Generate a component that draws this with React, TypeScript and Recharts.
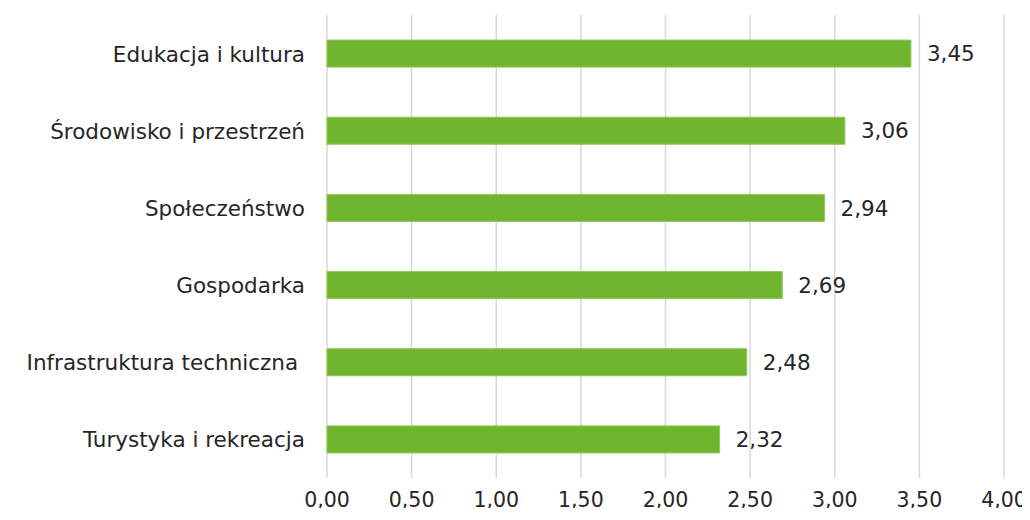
import { BarChart, Bar, XAxis, YAxis, CartesianGrid, LabelList } from "recharts";

const categories = [
  "Edukacja i kultura",
  "Środowisko i przestrzeń",
  "Społeczeństwo",
  "Gospodarka",
  "Infrastruktura techniczna ",
  "Turystyka i rekreacja",
];
const values = [3.45, 3.06, 2.94, 2.69, 2.48, 2.32];
const xTicks = [0, 0.5, 1, 1.5, 2, 2.5, 3, 3.5, 4];

const chartData = categories.map((name, i) => ({ name, value: values[i] }));

const fmt = (v: number) => v.toFixed(2).replace(".", ",");
const FONT = "'DejaVu Sans', sans-serif";
const SIZE = 21.5;

function CategoryTick({ x, y, payload }: any) {
  return (
    <text
      x={x}
      y={y}
      dy={8}
      textAnchor="end"
      fill="#262626"
      fontSize={SIZE}
      fontFamily={FONT}
      style={{ whiteSpace: "pre" }}
    >
      {payload.value}
    </text>
  );
}

export default function App() {
  return (
    <div>
      <style>{`.recharts-surface { overflow: visible; }`}</style>
      <BarChart
        width={1014}
        height={500}
        data={chartData}
        layout="vertical"
        margin={{ top: 7, right: 18, bottom: 0, left: 0 }}
        barCategoryGap="32.5%"
      >
        <CartesianGrid horizontal={false} stroke="#d9d9d9" strokeWidth={1.5} />
        <XAxis
          type="number"
          domain={[0, 4]}
          ticks={xTicks}
          tickFormatter={fmt}
          axisLine={false}
          tickLine={false}
          tick={{ fill: "#262626", fontSize: 20.5, fontFamily: FONT }}
          tickMargin={8}
          height={30}
        />
        <YAxis
          type="category"
          dataKey="name"
          width={319}
          axisLine={false}
          tickLine={false}
          tick={<CategoryTick />}
          tickMargin={16}
        />
        <Bar dataKey="value" fill="#70b52e" stroke="#8cc85a" strokeWidth={1} isAnimationActive={false}>
          <LabelList
            dataKey="value"
            position="right"
            offset={16}
            formatter={(v: any) => fmt(Number(v))}
            fill="#262626"
            fontSize={SIZE}
            fontFamily={FONT}
          />
        </Bar>
      </BarChart>
    </div>
  );
}
